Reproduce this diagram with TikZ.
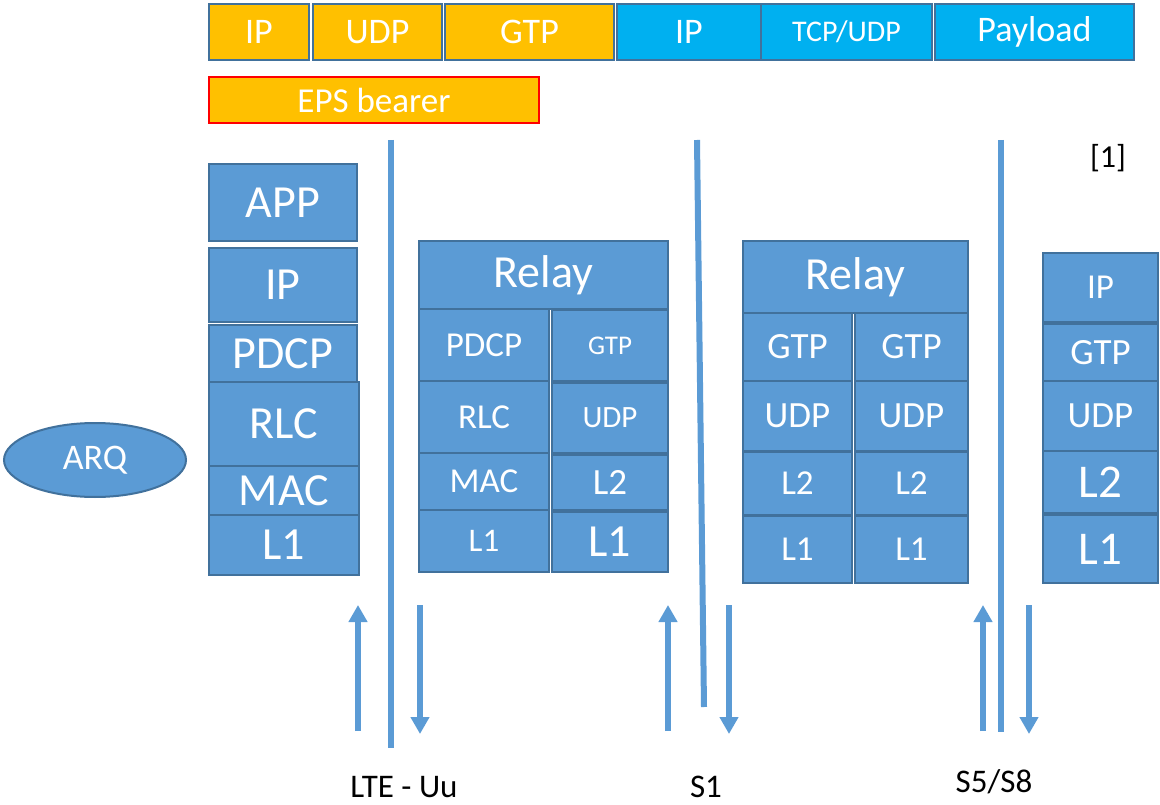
\documentclass[tikz,border=0pt]{standalone}
\usepackage{fontspec}
\setmainfont{Carlito}
\usetikzlibrary{arrows.meta,shapes.geometric}

\definecolor{layfill}{HTML}{5B9BD5}
\definecolor{laybord}{HTML}{41719C}
\definecolor{hdrorange}{HTML}{FFC000}
\definecolor{hdrcyan}{HTML}{00B0F0}

\tikzset{
  fs/.style={font=\fontsize{#1}{#1}\selectfont},
  layer/.style={draw=laybord, fill=layfill, line width=2pt, text=white, inner sep=0pt},
  hdr/.style={layer, fill=#1, minimum height=56},
  iface/.style={draw=layfill, line width=6pt},
  flow/.style={draw=layfill, line width=6pt, -{Triangle[width=18pt,length=17pt]}},
  lbl/.style={fs=33, text=black}
}

\begin{document}
\begin{tikzpicture}[x=1pt,y=-1pt]
  \useasboundingbox (0,0) rectangle (1160,805);

  % header of the tunnelled packet
  \node[hdr=hdrorange, minimum width=100, fs=36] (hip) at (259,32) {\raisebox{-2pt}{IP}};
  \node[hdr=hdrorange, minimum width=129, fs=36] (hudp) at (377.5,32) {\raisebox{-2pt}{UDP}};
  \node[hdr=hdrorange, minimum width=169, fs=36] (hgtp) at (529.5,32) {\raisebox{-2pt}{GTP}};
  \node[hdr=hdrcyan, minimum width=144, fs=36] (pip) at (689,32) {\raisebox{-2pt}{IP}};
  \node[hdr=hdrcyan, minimum width=171, fs=30] (ptcp) at (846.5,32) {TCP/UDP};
  \node[hdr=hdrcyan, minimum width=199, fs=36] (pload) at (1034.5,32) {\raisebox{-2pt}{Payload}};
  \node[layer, draw=red, fill=hdrorange, minimum width=330, minimum height=46, fs=35] (eps) at (374,100) {EPS bearer};

  \node[lbl, fs=32] (ref) at (1108,158) {[1]};

  % UE
  \node[layer, minimum width=148, minimum height=77, fs=46] (ueapp) at (283,202.5) {APP};
  \node[layer, minimum width=148, minimum height=74, fs=46] (ueip) at (283,285) {IP};
  \node[layer, minimum width=148, minimum height=57, fs=46] (uepdcp) at (283,353.5) {PDCP};
  \node[layer, minimum width=150, minimum height=84, fs=46] (uerlc) at (284,424) {RLC};
  \node[layer, minimum width=150, minimum height=49, fs=46] (uemac) at (284,490.5) {MAC};
  \node[layer, minimum width=150, minimum height=60, fs=46] (uel1) at (284,545) {L1};
  \node[layer, ellipse, minimum width=182, minimum height=74, fs=36] (arq) at (95,460) {ARQ};

  % eNodeB
  \node[layer, minimum width=249, minimum height=68, fs=46] (enbrelay) at (543.5,275) {Relay};
  \node[layer, minimum width=130, minimum height=72, fs=35] (enbpdcp) at (484,345) {PDCP};
  \node[layer, minimum width=130, minimum height=72, fs=35] (enbrlc) at (484,417) {RLC};
  \node[layer, minimum width=130, minimum height=57, fs=35] (enbmac) at (484,481.5) {MAC};
  \node[layer, minimum width=130, minimum height=62, fs=33] (enbl1a) at (484,541) {L1};
  \node[layer, minimum width=116, minimum height=71, fs=27] (enbgtp) at (610,345.5) {GTP};
  \node[layer, minimum width=116, minimum height=70, fs=31] (enbudp) at (610,418) {UDP};
  \node[layer, minimum width=116, minimum height=55, fs=37] (enbl2) at (610,482.5) {L2};
  \node[layer, minimum width=116, minimum height=60, fs=46] (enbl1b) at (610,542) {L1};

  % S-GW
  \node[layer, minimum width=225, minimum height=72, fs=46] (sgwrelay) at (855.5,277) {Relay};
  \node[layer, minimum width=109, minimum height=68, fs=37] (sgwgtpa) at (797.5,347) {GTP};
  \node[layer, minimum width=109, minimum height=70, fs=37] (sgwudpa) at (797.5,416) {UDP};
  \node[layer, minimum width=109, minimum height=63, fs=35] (sgwl2a) at (797.5,483.5) {L2};
  \node[layer, minimum width=109, minimum height=67, fs=35] (sgwl1a) at (797.5,549.5) {L1};
  \node[layer, minimum width=113, minimum height=68, fs=37] (sgwgtpb) at (911.5,347) {GTP};
  \node[layer, minimum width=113, minimum height=70, fs=37] (sgwudpb) at (911.5,416) {UDP};
  \node[layer, minimum width=113, minimum height=63, fs=35] (sgwl2b) at (911.5,483.5) {L2};
  \node[layer, minimum width=113, minimum height=67, fs=35] (sgwl1b) at (911.5,549.5) {L1};

  % P-GW
  \node[layer, minimum width=115, minimum height=69, fs=35] (pgwip) at (1100.5,287.5) {IP};
  \node[layer, minimum width=115, minimum height=57, fs=37] (pgwgtp) at (1100.5,352.5) {GTP};
  \node[layer, minimum width=115, minimum height=70, fs=37] (pgwudp) at (1100.5,416) {UDP};
  \node[layer, minimum width=115, minimum height=62, fs=47] (pgwl2) at (1100.5,482) {L2};
  \node[layer, minimum width=115, minimum height=68, fs=47] (pgwl1) at (1100.5,549) {L1};

  % interfaces
  \coordinate (uutop) at (391,140);   \coordinate (uubot) at (391,748);
  \coordinate (s1top) at (697,140);   \coordinate (s1bot) at (704,707);
  \coordinate (s5top) at (1001,140);  \coordinate (s5bot) at (1001,732);
  \draw[iface] (uutop) -- (uubot);
  \draw[iface] (s1top) -- (s1bot);
  \draw[iface] (s5top) -- (s5bot);

  % uplink / downlink
  \foreach \nm/\up/\dn in {uu/358/420, s1/668/729, s5/983/1029} {
    \coordinate (\nm ulo) at (\up,731);  \coordinate (\nm uhi) at (\up,605);
    \coordinate (\nm dhi) at (\dn,605);  \coordinate (\nm dlo) at (\dn,734);
    \draw[flow] (\nm ulo) -- (\nm uhi);
    \draw[flow] (\nm dhi) -- (\nm dlo);
  }

  \node[lbl] (uulbl) at (404,787) {LTE - Uu};
  \node[lbl] (s1lbl) at (706,787) {S1};
  \node[lbl] (s5lbl) at (994,782) {S5/S8};
\end{tikzpicture}
\end{document}
